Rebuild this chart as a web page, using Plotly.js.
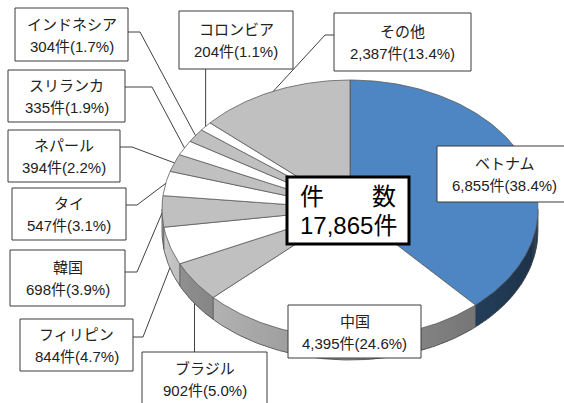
<!DOCTYPE html>
<html><head><meta charset="utf-8">
<script src="https://cdn.plot.ly/plotly-3.0.1.min.js"></script>
<style>html,body{margin:0;padding:0;background:#fff}#chart{width:564px;height:403px}</style>
</head><body><div id="chart"></div>
<script>
// ---- data ----
const names  = ['ベトナム','中国','ブラジル','フィリピン','韓国','タイ','ネパール','スリランカ','インドネシア','コロンビア','その他'];
const counts = [6855, 4395, 902, 844, 698, 547, 394, 335, 304, 204, 2387];
const pcts   = [38.4, 24.6, 5.0, 4.7, 3.9, 3.1, 2.2, 1.9, 1.7, 1.1, 13.4];
const totalCount = 17865;

// ---- styles ----
const sliceColors = ['#4d86c2','#ffffff','#c0c0c0','#ffffff','#c0c0c0','#ffffff','#c0c0c0','#ffffff','#c0c0c0','#ffffff','#c0c0c0'];
const FONT = '"Liberation Sans", "Noto Sans CJK JP", sans-serif';
const geo = {cx:350, cy:209, rx:188, ry:129, depth:22};

// label box layout: [x0,y0,x1,y1], leader start y + elbow x
const boxes = {
  'ベトナム':   {box:[437,146,572,202]},
  '中国':       {box:[288,305,421,358]},
  'ブラジル':   {box:[142,352,267,412], lead:'top'},
  'フィリピン': {box:[20,319,133,371], lead:'right', ly:337, ex:143},
  '韓国':       {box:[10,250,125,306], lead:'right', ly:272, ex:137},
  'タイ':       {box:[12,188,126,240], lead:'right', ly:205, ex:137},
  'ネパール':   {box:[8,130,120,182], lead:'right', ly:147, ex:132},
  'スリランカ': {box:[8,70,125,122], lead:'right', ly:87, ex:152},
  'インドネシア':{box:[15,8,128,61], lead:'right', ly:32, ex:140},
  'コロンビア': {box:[179,11,293,69], lead:'bottom'},
  'その他':     {box:[334,13,471,71], lead:'left', ly:35, ex:325}
};
const totalBox = [287,177,409,244];

const D = Math.PI/180;
function pt(deg){ return [geo.cx + geo.rx*Math.sin(deg*D), geo.cy - geo.ry*Math.cos(deg*D)]; }
function hexToRgb(h){ return [parseInt(h.substr(1,2),16),parseInt(h.substr(3,2),16),parseInt(h.substr(5,2),16)]; }
function shade(h,deg){
  let f = 0.46 + (deg-138)*0.0027; f = Math.max(0.3, Math.min(0.95,f));
  const c = hexToRgb(h).map(v=>Math.round(v*f));
  return 'rgb('+c.join(',')+')';
}

const sum = counts.reduce((a,b)=>a+b,0);
const angles = []; let acc = 0;
counts.forEach(c=>{ const a = acc/sum*360; acc += c; angles.push([a, acc/sum*360]); });

const traces = [];
// sides (small strips, overlapping to avoid seams)
angles.forEach(([a,b],i)=>{
  const s = Math.max(a,90), e = Math.min(b,270);
  if (s>=e) return;
  for (let t=s; t<e; t+=1.5){
    const t2 = Math.min(t+2.2,e);
    const xs=[], ys=[];
    for (let k=0;k<=3;k++){ const p=pt(t+(t2-t)*k/3); xs.push(p[0]); ys.push(p[1]-1); }
    for (let k=3;k>=0;k--){ const p=pt(t+(t2-t)*k/3); xs.push(p[0]); ys.push(p[1]+geo.depth); }
    xs.push(xs[0]); ys.push(ys[0]);
    const col = shade(sliceColors[i], t+0.75);
    traces.push({x:xs, y:ys, mode:'lines', fill:'toself', fillcolor:col, line:{width:0},
      hoverinfo:'skip', showlegend:false});
  }
});
// side boundary lines and bottom edge
const edgeX=[], edgeY=[];
for (let t=90;t<=270;t+=1){ const p=pt(t); edgeX.push(p[0]); edgeY.push(p[1]+geo.depth); }
traces.push({x:edgeX,y:edgeY,mode:'lines',line:{color:'#4a4a4a',width:0.8},hoverinfo:'skip',showlegend:false});
const bx=[], by=[];
angles.forEach(([a])=>{ if (a>90 && a<270){ const p=pt(a); bx.push(p[0],p[0],null); by.push(p[1],p[1]+geo.depth,null);} });
[90,270].forEach(a=>{ const p=pt(a); bx.push(p[0],p[0],null); by.push(p[1],p[1]+geo.depth,null); });
traces.push({x:bx,y:by,mode:'lines',line:{color:'#4a4a4a',width:0.8},hoverinfo:'skip',showlegend:false});
// top faces
angles.forEach(([a,b],i)=>{
  const xs=[geo.cx], ys=[geo.cy];
  const n = Math.max(2, Math.ceil(b-a));
  for (let k=0;k<=n;k++){ const p=pt(a+(b-a)*k/n); xs.push(p[0]); ys.push(p[1]); }
  xs.push(geo.cx); ys.push(geo.cy);
  traces.push({x:xs,y:ys,mode:'lines',fill:'toself',fillcolor:sliceColors[i],
    line:{color:'#555555',width:0.75},hoverinfo:'skip',showlegend:false,name:names[i]});
});

// labels
const shapes=[], annotations=[];
names.forEach((nm,i)=>{
  const L = boxes[nm]; const [x0,y0,x1,y1]=L.box;
  const mid=(angles[i][0]+angles[i][1])/2;
  const p=pt(mid); const c=-Math.cos(mid*D);
  const ey = p[1] + geo.depth*Math.min(1,Math.max(0,c*4));
  if (L.lead==='right' || L.lead==='left'){
    const sx = L.lead==='right'?x1:x0;
    shapes.push({type:'path',path:`M${sx},${L.ly} L${L.ex},${L.ly} L${p[0]},${ey}`,line:{color:'#404040',width:1},layer:'above'});
  } else if (L.lead==='top'){
    shapes.push({type:'path',path:`M${p[0]},${y0} L${p[0]},${ey}`,line:{color:'#404040',width:1},layer:'above'});
  } else if (L.lead==='bottom'){
    shapes.push({type:'path',path:`M${p[0]},${y1} L${p[0]},${p[1]}`,line:{color:'#404040',width:1},layer:'above'});
  }
});
names.forEach((nm,i)=>{
  const [x0,y0,x1,y1]=boxes[nm].box;
  shapes.push({type:'rect',x0,y0,x1,y1,fillcolor:'#ffffff',line:{color:'#3a3a3a',width:1},layer:'above'});
  const cxm=(x0+x1)/2, cym=(Math.min(y1,403)+y0)/2;
  const cyy = nm==='ブラジル' ? 379 : cym;
  annotations.push({x:cxm,y:cyy-11,text:nm,showarrow:false,font:{family:FONT,size:15,color:'#222'},xanchor:'center',yanchor:'middle',height:18});
  annotations.push({x:cxm,y:cyy+11,text:counts[i].toLocaleString('en-US')+'件('+pcts[i].toFixed(1)+'%)',showarrow:false,font:{family:FONT,size:15,color:'#222'},xanchor:'center',yanchor:'middle',height:18});
});
shapes.push({type:'rect',x0:totalBox[0],y0:totalBox[1],x1:totalBox[2],y1:totalBox[3],fillcolor:'#ffffff',line:{color:'#000',width:3},layer:'above'});
const tcx=(totalBox[0]+totalBox[2])/2;
annotations.push({x:tcx,y:196,text:'件　　数',showarrow:false,font:{family:FONT,size:24,color:'#000'},xanchor:'center',yanchor:'middle',height:25});
annotations.push({x:tcx,y:225,text:totalCount.toLocaleString('en-US')+'件',showarrow:false,font:{family:FONT,size:24,color:'#000'},xanchor:'center',yanchor:'middle',height:25});

const layout = {
  width:564,height:403,margin:{l:0,r:0,t:0,b:0},paper_bgcolor:'#fff',plot_bgcolor:'#fff',
  xaxis:{range:[0,564],visible:false,fixedrange:true},
  yaxis:{range:[403,0],visible:false,fixedrange:true},
  shapes,annotations,showlegend:false
};
Plotly.newPlot('chart',traces,layout,{staticPlot:true,displayModeBar:false});
</script></body></html>
